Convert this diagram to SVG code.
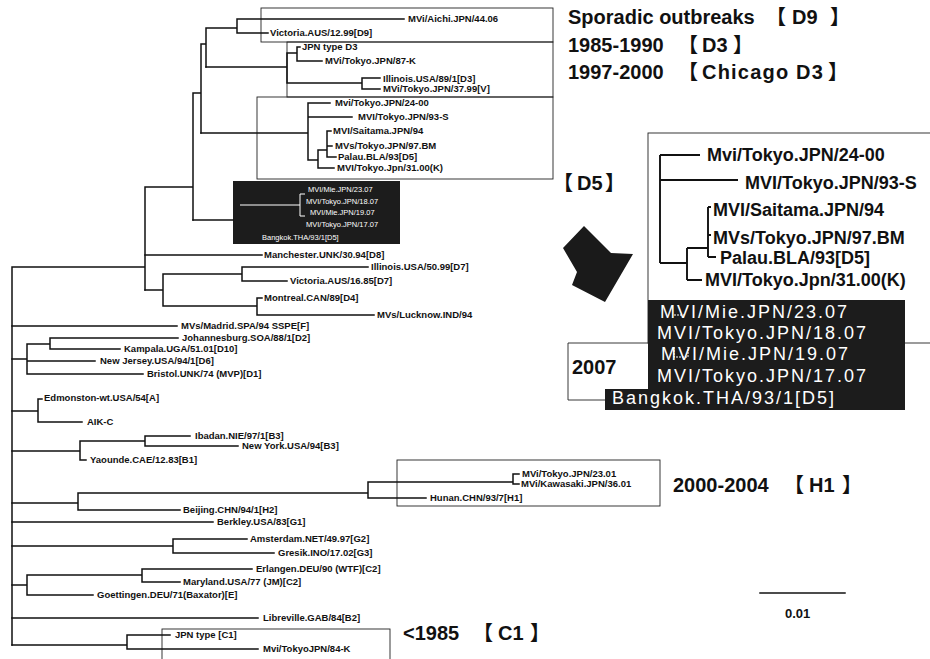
<svg xmlns="http://www.w3.org/2000/svg" width="930" height="659" viewBox="0 0 930 659">
<style>
text{font-family:"Liberation Sans","Noto Sans CJK JP",sans-serif;font-weight:bold;fill:#111}
.s{font-size:9.5px}
.big{font-size:20px}
.ins{font-size:18px}
.wt{fill:#fff;font-weight:normal}
.wts{font-size:7.5px}
.wtl{font-size:18px;letter-spacing:2px}
.sc{font-size:13px}
.br{fill:none;stroke:#111;stroke-width:1.5;stroke-linecap:square}
.bx{fill:none;stroke:#222;stroke-width:0.9}
.ib{fill:none;stroke:#111;stroke-width:1.9}
.wl{fill:none;stroke:#fff;stroke-width:1}
</style>
<rect width="930" height="659" fill="#fff"/>

<g id="boxes">
  <rect class="bx" x="261" y="8" width="292" height="34"/>
  <rect class="bx" x="287" y="42" width="266" height="55"/>
  <rect class="bx" x="257" y="97" width="296" height="82"/>
  <rect x="233" y="181" width="167" height="63" fill="#1c1c1c"/>
  <rect class="bx" x="397" y="460" width="263" height="46"/>
  <rect class="bx" x="162" y="629" width="228" height="40"/>
  <rect class="bx" x="648" y="133" width="290" height="210" stroke-width="1.2"/>
  <path d="M648,300 H905 V410 H605 V389 H648 Z" fill="#1c1c1c"/>
  <path class="bx" d="M648,343 H568 V400 H605" stroke-width="1.2"/>
</g>

<g id="arrow">
  <polygon points="584,226 611,253 633,254 605,302 572,285 577,272 563,248" fill="#1a1a1a"/>
</g>

<g id="connectors">
  <path class="br" d="M12,267 V645 M12,267 H145 M145,187 V290 M145,187 H193 M193,93 V220 M193,93 H201 M201,44 V133 M201,44 H206 M206,28 V67 M206,28 H237 M237,19 V33 M237,19 H404 M237,33 H268"/>
  <path class="br" d="M206,67 H287 M287,53 V83 M287,53 H297 M297,47 V61 M297,47 H300 M297,61 H322 M287,83 H362 M362,78 V89 M362,78 H380 M362,89 H380"/>
  <path class="br" d="M201,133 H308 M308,103 V160 M308,103 H330 M308,117 H352 M308,160 H318 M318,150 V168 M318,150 H327 M318,168 H334 M327,131 V157 M327,131 H331 M327,146 H332 M327,157 H336"/>
  <path class="br" d="M193,220 H233"/>
  <path class="wl" d="M240,205 H300 M300,194 V216 M300,194 H305 M300,216 H305"/>
  <path class="br" d="M145,255 H262 M145,290 H163 M163,274 V306 M163,274 H242 M242,267 V281 M242,267 H368 M242,281 H287 M163,306 H257 M257,298 V315 M257,298 H262 M257,315 H374"/>
  <path class="br" d="M12,326 H177 M12,359 H27 M27,344 V374 M27,344 H50 M50,338 V349 M50,338 H178 M50,349 H120 M27,361 H95 M27,374 H143"/>
  <path class="br" d="M12,411 H38 M38,399 V422 M38,399 H42 M38,422 H82"/>
  <path class="br" d="M12,451 H80 M80,441 V460 M80,441 H145 M145,436 V446 M145,436 H190 M145,446 H238 M80,460 H86"/>
  <path class="br" d="M12,503 H78 M78,493 V510 M78,493 H368 M78,510 H180 M368,482 V498 M368,482 H513 M513,474 V484 M513,474 H519 M513,484 H519 M368,498 H426"/>
  <path class="br" d="M12,522 H213 M12,546 H173 M173,539 V553 M173,539 H247 M173,553 H274"/>
  <path class="br" d="M12,585 H27 M27,575 V595 M27,575 H142 M142,569 V582 M142,569 H252 M142,582 H180 M27,595 H93"/>
  <path class="br" d="M12,618 H258 M12,645 H127 M127,635 V649 M127,635 H170 M127,649 H258"/>
  <path class="ib" d="M660,155 V263 M660,155 H700 M660,180 H738 M660,263 H687 M687,248 V280 M687,248 H708 M687,280 H702 M708,207 V257 M708,207 H711 M708,235 H711 M708,257 H716"/>
  <path class="wl" d="M674,315 H684 M674,347 V357 H688 V347" stroke-dasharray="2,1"/>
  <path class="br" d="M760,593 H845" stroke-width="1.6"/>
</g>

<g id="n-aichi"><text class="s" x="408" y="22">MVi/Aichi.JPN/44.06</text></g>
<g id="n-victoria12"><text class="s" x="270" y="36">Victoria.AUS/12.99[D9]</text></g>
<g id="n-jpnd3"><text class="s" x="302" y="50">JPN type D3</text></g>
<g id="n-tokyo87"><text class="s" x="325" y="64">MVi/Tokyo.JPN/87-K</text></g>
<g id="n-illinois89"><text class="s" x="383" y="82">Illinois.USA/89/1[D3]</text></g>
<g id="n-tokyo37"><text class="s" x="383" y="92">MVi/Tokyo.JPN/37.99[V]</text></g>
<g id="n-tokyo24"><text class="s" x="335" y="106">Mvi/Tokyo.JPN/24-00</text></g>
<g id="n-tokyo93"><text class="s" x="358" y="120">MVI/Tokyo.JPN/93-S</text></g>
<g id="n-saitama"><text class="s" x="333" y="134">MVI/Saitama.JPN/94</text></g>
<g id="n-tokyo97"><text class="s" x="335" y="149">MVs/Tokyo.JPN/97.BM</text></g>
<g id="n-palau"><text class="s" x="338" y="160">Palau.BLA/93[D5]</text></g>
<g id="n-tokyo31"><text class="s" x="337" y="171">MVI/Tokyo.Jpn/31.00(K)</text></g>
<g id="n-mie23"><text class="wt wts" x="308" y="192">MVI/Mie.JPN/23.07</text></g>
<g id="n-tokyo18"><text class="wt wts" x="306" y="204">MVI/Tokyo.JPN/18.07</text></g>
<g id="n-mie19"><text class="wt wts" x="310" y="215">MVI/Mie.JPN/19.07</text></g>
<g id="n-tokyo17"><text class="wt wts" x="306" y="227">MVI/Tokyo.JPN/17.07</text></g>
<g id="n-bangkok"><text class="wt wts" x="262" y="240">Bangkok.THA/93/1[D5]</text></g>
<g id="n-manchester"><text class="s" x="264" y="258">Manchester.UNK/30.94[D8]</text></g>
<g id="n-illinois50"><text class="s" x="371" y="270">Illinois.USA/50.99[D7]</text></g>
<g id="n-victoria16"><text class="s" x="290" y="284">Victoria.AUS/16.85[D7]</text></g>
<g id="n-montreal"><text class="s" x="264" y="301">Montreal.CAN/89[D4]</text></g>
<g id="n-lucknow"><text class="s" x="377" y="318">MVs/Lucknow.IND/94</text></g>
<g id="n-madrid"><text class="s" x="181" y="329">MVs/Madrid.SPA/94 SSPE[F]</text></g>
<g id="n-johannesburg"><text class="s" x="182" y="341">Johannesburg.SOA/88/1[D2]</text></g>
<g id="n-kampala"><text class="s" x="124" y="352">Kampala.UGA/51.01[D10]</text></g>
<g id="n-newjersey"><text class="s" x="100" y="364">New Jersey.USA/94/1[D6]</text></g>
<g id="n-bristol"><text class="s" x="147" y="377">Bristol.UNK/74 (MVP)[D1]</text></g>
<g id="n-edmonston"><text class="s" x="44" y="401">Edmonston-wt.USA/54[A]</text></g>
<g id="n-aikc"><text class="s" x="87" y="425">AIK-C</text></g>
<g id="n-ibadan"><text class="s" x="195" y="439">Ibadan.NIE/97/1[B3]</text></g>
<g id="n-newyork"><text class="s" x="242" y="449">New York.USA/94[B3]</text></g>
<g id="n-yaounde"><text class="s" x="90" y="463">Yaounde.CAE/12.83[B1]</text></g>
<g id="n-tokyo23"><text class="s" x="522" y="477">MVi/Tokyo.JPN/23.01</text></g>
<g id="n-kawasaki"><text class="s" x="521" y="487">MVi/Kawasaki.JPN/36.01</text></g>
<g id="n-hunan"><text class="s" x="430" y="501">Hunan.CHN/93/7[H1]</text></g>
<g id="n-beijing"><text class="s" x="183" y="513">Beijing.CHN/94/1[H2]</text></g>
<g id="n-berkley"><text class="s" x="217" y="525">Berkley.USA/83[G1]</text></g>
<g id="n-amsterdam"><text class="s" x="250" y="542">Amsterdam.NET/49.97[G2]</text></g>
<g id="n-gresik"><text class="s" x="278" y="556">Gresik.INO/17.02[G3]</text></g>
<g id="n-erlangen"><text class="s" x="256" y="572">Erlangen.DEU/90 (WTF)[C2]</text></g>
<g id="n-maryland"><text class="s" x="183" y="585">Maryland.USA/77 (JM)[C2]</text></g>
<g id="n-goettingen"><text class="s" x="97" y="598">Goettingen.DEU/71(Baxator)[E]</text></g>
<g id="n-libreville"><text class="s" x="263" y="621">Libreville.GAB/84[B2]</text></g>
<g id="n-jpnc1"><text class="s" x="175" y="638">JPN type [C1]</text></g>
<g id="n-tokyo84"><text class="s" x="263" y="652">Mvi/TokyoJPN/84-K</text></g>

<g id="lbl-d9"><text class="big" x="568" y="24">Sporadic outbreaks <tspan x="766">【</tspan><tspan x="792">D9</tspan><tspan x="830">】</tspan></text></g>
<g id="lbl-d3"><text class="big" x="568" y="52">1985-1990 <tspan x="678">【</tspan><tspan x="702">D3</tspan><tspan x="733">】</tspan></text></g>
<g id="lbl-chicago"><text class="big" x="568" y="79">1997-2000 <tspan x="678">【</tspan><tspan x="702" letter-spacing="1.2">Chicago D3</tspan><tspan x="828">】</tspan></text></g>
<g id="lbl-d5"><text class="big" x="553" y="190">【<tspan x="577">D5</tspan><tspan x="605">】</tspan></text></g>
<g id="lbl-2007"><text class="big" x="572" y="374">2007</text></g>
<g id="lbl-h1"><text class="big" x="673" y="492">2000-2004 <tspan x="784">【</tspan><tspan x="809">H1</tspan><tspan x="842">】</tspan></text></g>
<g id="lbl-c1"><text class="big" x="403" y="640">&lt;1985 <tspan x="473">【</tspan><tspan x="498">C1</tspan><tspan x="530">】</tspan></text></g>
<g id="lbl-scale"><text class="sc" x="785" y="618">0.01</text></g>

<g id="i-tokyo24"><text class="ins" x="707" y="161">Mvi/Tokyo.JPN/24-00</text></g>
<g id="i-tokyo93"><text class="ins" x="745" y="189">MVI/Tokyo.JPN/93-S</text></g>
<g id="i-saitama"><text class="ins" x="713" y="216">MVI/Saitama.JPN/94</text></g>
<g id="i-tokyo97"><text class="ins" x="713" y="244">MVs/Tokyo.JPN/97.BM</text></g>
<g id="i-palau"><text class="ins" x="720" y="264">Palau.BLA/93[D5]</text></g>
<g id="i-tokyo31"><text class="ins" x="705" y="286">MVI/Tokyo.Jpn/31.00(K)</text></g>
<g id="i-mie23"><text class="wt wtl" x="660" y="318">MVI/Mie.JPN/23.07</text></g>
<g id="i-tokyo18"><text class="wt wtl" x="657" y="339">MVI/Tokyo.JPN/18.07</text></g>
<g id="i-mie19"><text class="wt wtl" x="661" y="360">MVI/Mie.JPN/19.07</text></g>
<g id="i-tokyo17"><text class="wt wtl" x="657" y="382">MVI/Tokyo.JPN/17.07</text></g>
<g id="i-bangkok"><text class="wt wtl" x="612" y="404">Bangkok.THA/93/1[D5]</text></g>
</svg>
